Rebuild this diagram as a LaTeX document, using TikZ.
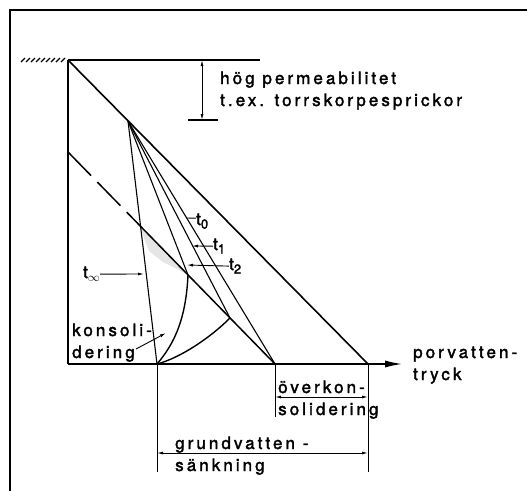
\documentclass[tikz,border=0pt]{standalone}
\usepackage{fontspec}
\newfontfamily\lblfont{TeX Gyre Heros}[LetterSpace=18, FakeBold=2]
\usetikzlibrary{arrows.meta}
\newcommand{\lowsub}[1]{\raisebox{-0.4ex}{\fontsize{13}{13}\selectfont #1}}
\tikzset{
  lbl/.style={font=\lblfont\fontsize{17}{22}\selectfont, inner sep=0pt, align=left},
  fan/.style={line width=1.1pt},
  dim/.style={line width=0.9pt, {Latex[length=6pt,width=3pt]}-{Latex[length=6pt,width=3pt]}},
  ptr/.style={line width=0.9pt, -{Latex[length=6pt,width=3pt]}}
}

\begin{document}
\begin{tikzpicture}[x=1pt, y=-1pt]
    \useasboundingbox (0,0) rectangle (527,491);
    \draw[line width=1.5pt] (10,491) -- (10,10) -- (527,10);

    \coordinate (G) at (68,60);
    \coordinate (O) at (68,364);
    \coordinate (E) at (405,364);
    \coordinate (P0) at (368,364);
    \coordinate (Pe) at (275,364);
    \coordinate (Pinf) at (157,364);
    \coordinate (A) at (128,121);
    \coordinate (W) at (68,152);
    \coordinate (Q1) at (230,318);
    \coordinate (Q2) at (188,275);
    \coordinate (X) at (intersection of A--Pinf and W--Pe);

    % stippled area under the new line
    \fill[black!10] (X) -- (Q2) -- (181,271) -- (163,262) -- (149,251) -- (144,238) -- cycle;

    % ground surface and axes
    \coordinate (Gr) at (260,60);
    \draw[line width=1.5pt] (G) -- (Gr);
    \foreach \x in {21,26,...,61} {
        \draw[line width=1.2pt] (\x,62) -- (\x+4,58);
    }
    \draw[line width=2pt] (G) -- (O);
    \draw[line width=2.6pt, -{Latex[length=20pt,width=7pt]}] (O) -- (E);
    \draw[line width=1.6pt] (G) -- (P0);
    \draw[line width=1.5pt, dash pattern=on 33pt off 9pt] (W) -- (X);
    \draw[line width=1.5pt] (X) -- (Pe);

    % isochrones
    \draw[fan] (A) -- (Pinf);
    \draw[fan] (A) -- (Pe);
    \draw[fan] (A) -- (Q1);
    \draw[fan] (A) -- (Q2);
    \draw[line width=1.4pt] (Q1) .. controls (210,338) and (180,358) .. (Pinf);
    \draw[line width=1.4pt] (Q2) .. controls (186,318) and (175,343) .. (Pinf);

    % labels of the isochrones
    \node[lbl, anchor=base west] (lt0) at (196,225) {t\lowsub{0}};
    \node[lbl, anchor=base west] (lt1) at (213,250) {t\lowsub{1}};
    \node[lbl, anchor=base west] (lt2) at (229,270) {t\lowsub{2}};
    \node[lbl, anchor=base west] (ltinf) at (83,278) {t\lowsub{$\infty$}};
    \coordinate (c0) at (187,218);
    \coordinate (c1) at (192,246);
    \coordinate (c2) at (187,265);
    \coordinate (cinf) at (144,274);
    \draw[line width=0.9pt] ([yshift=3pt]lt0.west) -- (c0);
    \draw[ptr] (lt1.west) -- (c1);
    \draw[ptr] (lt2.west) -- (c2);
    \draw[ptr] (ltinf.east) -- (cinf);

    \node[lbl, anchor=base west] (kons) at (72,358) {konsoli-\\dering};
    \coordinate (k1) at (136,349);
    \coordinate (k2) at (166,333);
    \draw[ptr] (k1) -- (k2);

    % high permeability zone
    \coordinate (h1) at (202,60);
    \coordinate (h2) at (202,120);
    \coordinate (b1) at (188,120);
    \coordinate (b2) at (218,120);
    \draw[dim] (h1) -- (h2);
    \draw[line width=1.2pt] (b1) -- (b2);
    \node[lbl, anchor=base west] (perm) at (220,106) {hög permeabilitet\\t.ex. torrskorpesprickor};

    \node[lbl, anchor=base west] (axis) at (413,380) {porvatten-\\tryck};

    % dimensions below the axis
    \coordinate (Pinfd) at (157,472);
    \coordinate (Ped) at (275,417);
    \coordinate (P0d) at (368,472);
    \draw[line width=0.9pt] (Pinf) -- (Pinfd);
    \draw[line width=0.9pt] (Pe) -- (Ped);
    \draw[line width=0.9pt] (P0) -- (P0d);
    \coordinate (u1) at (275,397);
    \coordinate (u2) at (368,397);
    \coordinate (g1) at (157,453);
    \coordinate (g2) at (368,453);
    \draw[dim] (u1) -- (u2);
    \draw[dim] (g1) -- (g2);
    \node[lbl, anchor=base west] (over) at (278,415) {överkon-\\solidering};
    \node[lbl, anchor=base west] (sank) at (175,471) {grundvatten -\\sänkning};
\end{tikzpicture}
\end{document}
